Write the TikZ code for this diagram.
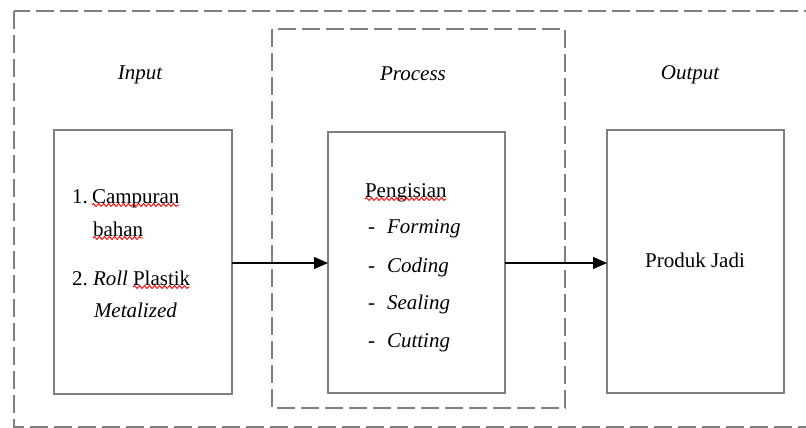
\documentclass[tikz,border=0pt]{standalone}
\usepackage{fontspec}
\setmainfont{Liberation Serif}
\usetikzlibrary{arrows.meta,decorations.pathmorphing}
\definecolor{boxgray}{HTML}{7F7F7F}
\begin{document}
\begin{tikzpicture}[x=1pt,y=-1pt,
  every node/.style={font=\fontsize{21}{25}\selectfont, inner sep=0pt, outer sep=0pt},
  dashbox/.style={draw=boxgray, line width=2pt, dash pattern=on 18pt off 6pt},
  solidbox/.style={draw=boxgray, line width=2pt, rectangle, minimum width=#1},
  txt/.style={anchor=base west},
  lbl/.style={anchor=base, font=\fontsize{21}{25}\selectfont\itshape},
  flow/.style={draw=black, line width=1.2pt, -{Triangle[length=14pt,width=12pt]}},
  squig/.style={draw=red, line width=0.9pt, decorate, decoration={snake, amplitude=1.5pt, segment length=5pt}}]
\useasboundingbox (0,0) rectangle (806,428);
\clip (0,0) rectangle (806,428);
% outer and process dashed frames
\draw[dashbox] (14,11) rectangle (830,427);
\draw[dashbox] (272,29) rectangle (565,408);
% column labels
\node[lbl] (linput) at (140,80) {Input};
\node[lbl] (lprocess) at (413,81) {Process};
\node[lbl] (loutput) at (690,80) {Output};
% boxes
\node[solidbox=178pt, minimum height=264pt] (inbox) at (143,262) {};
\node[solidbox=177pt, minimum height=261pt] (procbox) at (416.5,262.5) {};
\node[solidbox=177pt, minimum height=263pt] (outbox) at (695.5,261.5) {};
% input texts
\node[txt] (i1) at (72,203) {1.};
\node[txt] (i1a) at (92,203) {Campuran};
\node[txt] (i1b) at (93,236) {bahan};
\node[txt] (i2) at (72,285) {2.};
\node[txt] (i2a) at (93,285) {\itshape Roll};
\node[txt] (i2b) at (133,285) {Plastik};
\node[txt] (i2c) at (94,317) {\itshape Metalized};
% process texts
\node[txt] (p0) at (365,197) {Pengisian};
\node[txt] (d1) at (368,233) {-};
\node[txt] (p1) at (387,233) {\itshape Forming};
\node[txt] (d2) at (368,272) {-};
\node[txt] (p2) at (387,272) {\itshape Coding};
\node[txt] (d3) at (368,309) {-};
\node[txt] (p3) at (387,309) {\itshape Sealing};
\node[txt] (d4) at (368,347) {-};
\node[txt] (p4) at (387,347) {\itshape Cutting};
% output text
\node[anchor=base] (o1) at (695,267) {Produk Jadi};
% spell-check squiggles
\draw[squig] ([yshift=-2pt]i1a.base west) -- ([yshift=-2pt]i1a.base east);
\draw[squig] ([yshift=-2pt]i1b.base west) -- ([yshift=-2pt]i1b.base east);
\draw[squig] ([yshift=-2pt]i2b.base west) -- ([yshift=-2pt]i2b.base east);
\draw[squig] ([yshift=-2pt]p0.base west) -- ([yshift=-2pt]p0.base east);
% arrows
\draw[flow] (inbox.east |- 0,263) -- (procbox.west |- 0,263);
\draw[flow] (procbox.east |- 0,263) -- (outbox.west |- 0,263);
\end{tikzpicture}
\end{document}
